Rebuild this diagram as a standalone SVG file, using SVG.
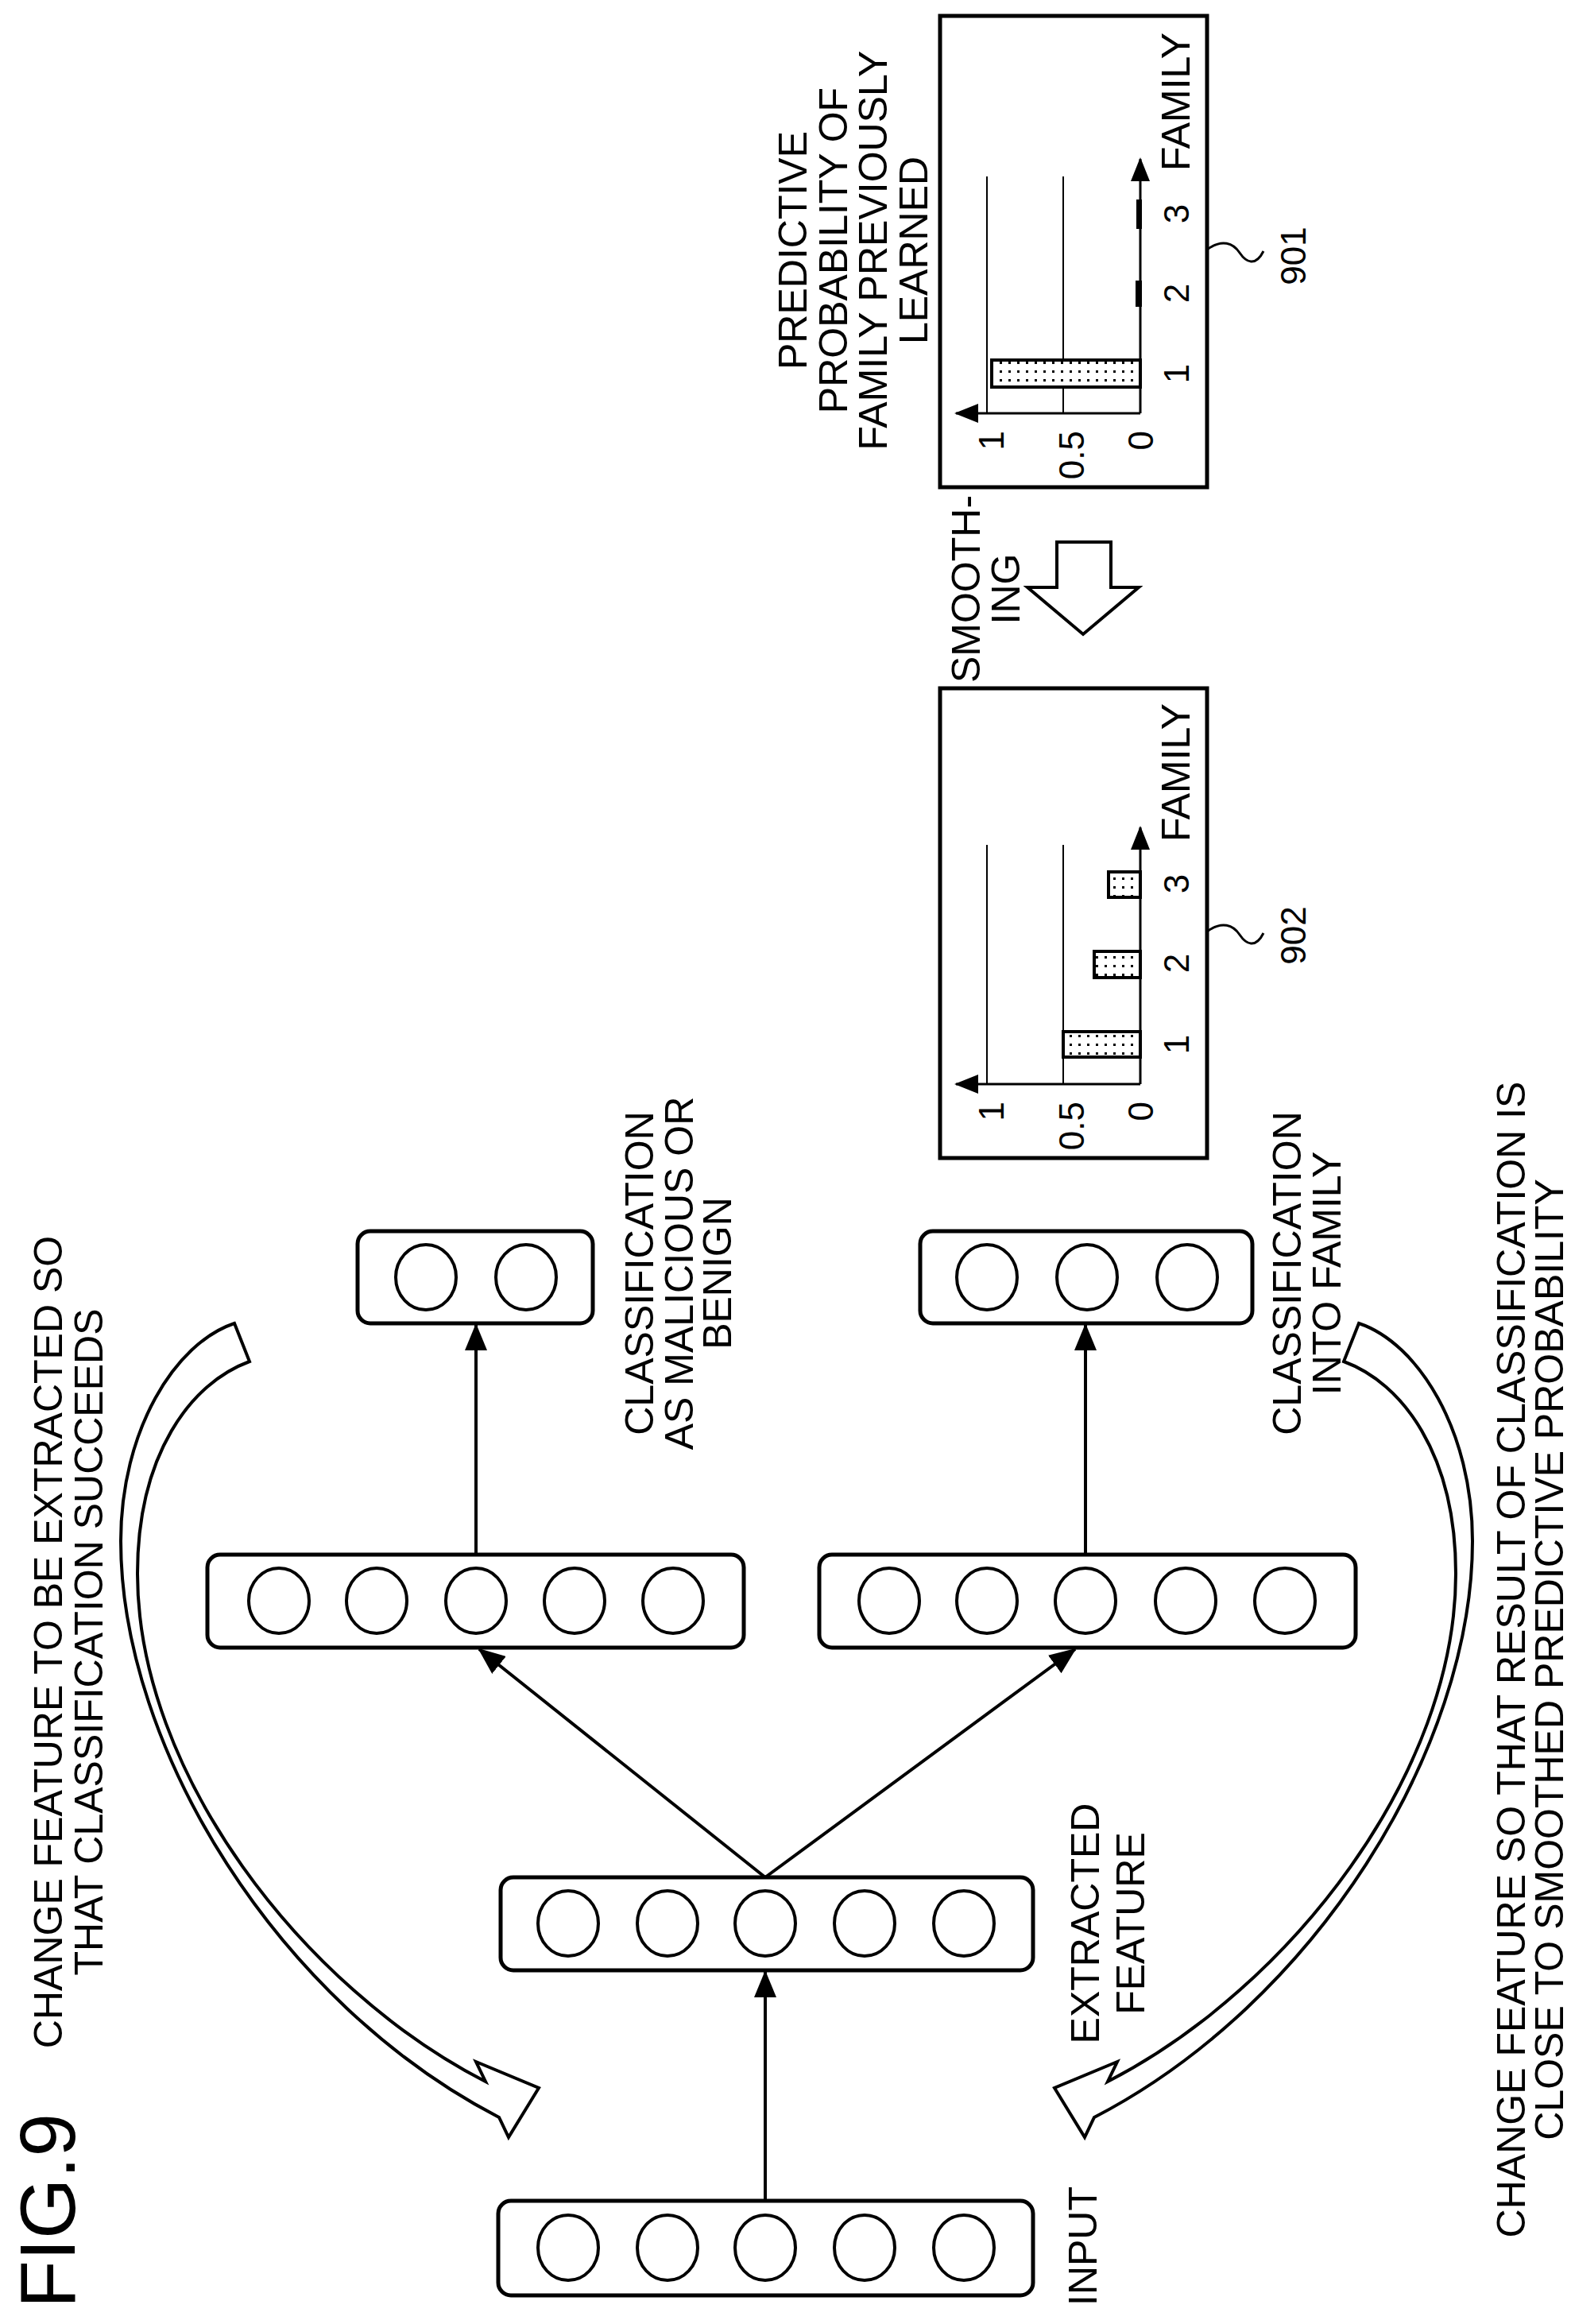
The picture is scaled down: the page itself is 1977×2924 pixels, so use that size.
<svg xmlns="http://www.w3.org/2000/svg" width="1977" height="2924" viewBox="0 0 1977 2924">
<style>
text{font-family:"Liberation Sans",Arial,sans-serif;fill:#000}
.lbl{font-size:50px}
.tk{font-size:44px}
.box{fill:#fff;stroke:#000;stroke-width:5}
.cir{fill:#fff;stroke:#000;stroke-width:4}
.con{stroke:#000;stroke-width:4;fill:none}
.grid{stroke:#000;stroke-width:2;fill:none}
.bar{fill:url(#dots);stroke:#000;stroke-width:4}
.big{fill:#fff;stroke:#000;stroke-width:4;stroke-linejoin:miter}
</style>
<defs>
<marker id="ah" markerUnits="userSpaceOnUse" markerWidth="34" markerHeight="28" refX="32" refY="14" orient="auto">
<path d="M0,0 L34,14 L0,28 Z" fill="#000"/>
</marker>
<marker id="ahs" markerUnits="userSpaceOnUse" markerWidth="30" markerHeight="24" refX="28" refY="12" orient="auto">
<path d="M0,0 L30,12 L0,24 Z" fill="#000"/>
</marker>
<pattern id="dots" patternUnits="userSpaceOnUse" width="11" height="11">
<rect width="11" height="11" fill="#fff"/>
<rect x="4" y="4" width="3" height="3" fill="#000"/>
</pattern>
</defs>

<text class="lbl" style="font-size:98px" transform="translate(94,2904) rotate(-90)">FIG.9</text>
<text class="lbl" text-anchor="middle" transform="translate(78,2066) rotate(-90)"><tspan x="0" y="0">CHANGE FEATURE TO BE EXTRACTED SO</tspan><tspan x="0" dy="51">THAT CLASSIFICATION SUCCEEDS</tspan></text>
<text class="lbl" text-anchor="middle" transform="translate(1919,2088) rotate(-90)"><tspan x="0" y="0">CHANGE FEATURE SO THAT RESULT OF CLASSIFICATION IS</tspan><tspan x="0" dy="48">CLOSE TO SMOOTHED PREDICTIVE PROBABILITY</tspan></text>

<g id="input">
<rect class="box" x="627" y="2769" width="673" height="119" rx="16"/>
<ellipse class="cir" cx="715" cy="2828" rx="38" ry="41"/><ellipse class="cir" cx="840" cy="2828" rx="38" ry="41"/><ellipse class="cir" cx="963" cy="2828" rx="38" ry="41"/><ellipse class="cir" cx="1088" cy="2828" rx="38" ry="41"/><ellipse class="cir" cx="1213" cy="2828" rx="38" ry="41"/>
<text class="lbl" text-anchor="middle" transform="translate(1380,2826) rotate(-90)">INPUT</text>
</g>
<g id="extracted">
<rect class="box" x="630" y="2362" width="670" height="117" rx="16"/>
<ellipse class="cir" cx="715" cy="2420" rx="38" ry="41"/><ellipse class="cir" cx="840" cy="2420" rx="38" ry="41"/><ellipse class="cir" cx="963" cy="2420" rx="38" ry="41"/><ellipse class="cir" cx="1088" cy="2420" rx="38" ry="41"/><ellipse class="cir" cx="1213" cy="2420" rx="38" ry="41"/>
<text class="lbl" text-anchor="middle" transform="translate(1383,2420) rotate(-90)"><tspan x="0" y="0">EXTRACTED</tspan><tspan x="0" dy="57">FEATURE</tspan></text>
</g>
<g id="hidden-left">
<rect class="box" x="261" y="1956" width="675" height="117" rx="16"/>
<ellipse class="cir" cx="351" cy="2014" rx="38" ry="41"/><ellipse class="cir" cx="474" cy="2014" rx="38" ry="41"/><ellipse class="cir" cx="599" cy="2014" rx="38" ry="41"/><ellipse class="cir" cx="723" cy="2014" rx="38" ry="41"/><ellipse class="cir" cx="847" cy="2014" rx="38" ry="41"/>
</g>
<g id="hidden-right">
<rect class="box" x="1031" y="1956" width="675" height="117" rx="16"/>
<ellipse class="cir" cx="1119" cy="2014" rx="38" ry="41"/><ellipse class="cir" cx="1242" cy="2014" rx="38" ry="41"/><ellipse class="cir" cx="1366" cy="2014" rx="38" ry="41"/><ellipse class="cir" cx="1492" cy="2014" rx="38" ry="41"/><ellipse class="cir" cx="1617" cy="2014" rx="38" ry="41"/>
</g>
<g id="out-malicious">
<rect class="box" x="450" y="1549" width="296" height="116" rx="16"/>
<ellipse class="cir" cx="536" cy="1607" rx="38" ry="41"/><ellipse class="cir" cx="662" cy="1607" rx="38" ry="41"/>
<text class="lbl" text-anchor="middle" transform="translate(822,1602) rotate(-90)"><tspan x="0" y="0">CLASSIFICATION</tspan><tspan x="0" dy="50">AS MALICIOUS OR</tspan><tspan x="0" dy="48">BENIGN</tspan></text>
</g>
<g id="out-family">
<rect class="box" x="1158" y="1549" width="418" height="116" rx="16"/>
<ellipse class="cir" cx="1242" cy="1607" rx="38" ry="41"/><ellipse class="cir" cx="1368" cy="1607" rx="38" ry="41"/><ellipse class="cir" cx="1494" cy="1607" rx="38" ry="41"/>
<text class="lbl" text-anchor="middle" transform="translate(1637,1602) rotate(-90)"><tspan x="0" y="0">CLASSIFICATION</tspan><tspan x="0" dy="50">INTO FAMILY</tspan></text>
</g>

<g id="connectors">
<line class="con" x1="963" y1="2769" x2="963" y2="2481" marker-end="url(#ah)"/>
<line class="con" x1="963" y1="2362" x2="603" y2="2075" marker-end="url(#ah)"/>
<line class="con" x1="963" y1="2362" x2="1353" y2="2075" marker-end="url(#ah)"/>
<line class="con" x1="599" y1="1956" x2="599" y2="1667" marker-end="url(#ah)"/>
<line class="con" x1="1366" y1="1956" x2="1366" y2="1667" marker-end="url(#ah)"/>
<path id="curve-left" class="big" d="M314,1713 C240,1740 173,1830 173,1980 C173,2230 380,2500 611,2619 L599,2594 L678,2627 L640,2689 L628,2664 C350,2520 152,2200 152,1939 C152,1800 220,1690 295,1665 Z"/>
<path id="curve-right" class="big" transform="translate(2005,0) scale(-1,1)" d="M314,1713 C240,1740 173,1830 173,1980 C173,2230 380,2500 611,2619 L599,2594 L678,2627 L640,2689 L628,2664 C350,2520 152,2200 152,1939 C152,1800 220,1690 295,1665 Z"/>
<polygon id="smoothing-arrow" class="big" points="1330,682 1398,682 1398,739 1433,739 1363,798 1293,739 1330,739"/>
</g>

<text class="lbl" text-anchor="middle" transform="translate(1233,741) rotate(-90)"><tspan x="0" y="0">SMOOTH-</tspan><tspan x="0" dy="50">ING</tspan></text>

<g id="chart901">
<rect class="box" x="1183" y="20" width="336" height="593"/>
<text class="lbl" text-anchor="middle" transform="translate(1015,315) rotate(-90)"><tspan x="0" y="0">PREDICTIVE</tspan><tspan x="0" dy="51">PROBABILITY OF</tspan><tspan x="0" dy="50">FAMILY PREVIOUSLY</tspan><tspan x="0" dy="51">LEARNED</tspan></text>
<line class="grid" x1="1242" y1="520" x2="1242" y2="222"/>
<line class="grid" x1="1338" y1="520" x2="1338" y2="222"/>
<rect class="bar" x="1248" y="453" width="187" height="34"/>
<rect class="bar" x="1431" y="355" width="4" height="29"/>
<rect class="bar" x="1432" y="253" width="3" height="33"/>
<line class="con" style="stroke-width:3" x1="1435" y1="520" x2="1203" y2="520" marker-end="url(#ahs)"/>
<line class="con" style="stroke-width:3" x1="1435" y1="520" x2="1435" y2="200" marker-end="url(#ahs)"/>
<text class="tk" text-anchor="end" transform="translate(1263,542) rotate(-90)">1</text>
<text class="tk" text-anchor="end" transform="translate(1364,542) rotate(-90)">0.5</text>
<text class="tk" text-anchor="end" transform="translate(1451,542) rotate(-90)">0</text>
<text class="tk" text-anchor="middle" transform="translate(1496,470) rotate(-90)">1</text>
<text class="tk" text-anchor="middle" transform="translate(1496,369) rotate(-90)">2</text>
<text class="tk" text-anchor="middle" transform="translate(1496,269) rotate(-90)">3</text>
<text class="lbl" text-anchor="middle" transform="translate(1497,128) rotate(-90)">FAMILY</text>
<path class="grid" style="stroke-width:3" d="M1519,314 C1538,300 1552,306 1560,318 S1580,336 1590,316"/>
<text class="tk" text-anchor="middle" transform="translate(1643,322) rotate(-90)">901</text>
</g>

<g id="chart902">
<rect class="box" x="1183" y="866" width="336" height="591"/>
<line class="grid" x1="1242" y1="1364" x2="1242" y2="1063"/>
<line class="grid" x1="1338" y1="1364" x2="1338" y2="1063"/>
<rect class="bar" x="1338" y="1298" width="97" height="32"/>
<rect class="bar" x="1377" y="1197" width="58" height="33"/>
<rect class="bar" x="1395" y="1097" width="40" height="32"/>
<line class="con" style="stroke-width:3" x1="1435" y1="1364" x2="1203" y2="1364" marker-end="url(#ahs)"/>
<line class="con" style="stroke-width:3" x1="1435" y1="1364" x2="1435" y2="1041" marker-end="url(#ahs)"/>
<text class="tk" text-anchor="end" transform="translate(1263,1386) rotate(-90)">1</text>
<text class="tk" text-anchor="end" transform="translate(1364,1386) rotate(-90)">0.5</text>
<text class="tk" text-anchor="end" transform="translate(1451,1386) rotate(-90)">0</text>
<text class="tk" text-anchor="middle" transform="translate(1496,1314) rotate(-90)">1</text>
<text class="tk" text-anchor="middle" transform="translate(1496,1212) rotate(-90)">2</text>
<text class="tk" text-anchor="middle" transform="translate(1496,1112) rotate(-90)">3</text>
<text class="lbl" text-anchor="middle" transform="translate(1497,972) rotate(-90)">FAMILY</text>
<path class="grid" style="stroke-width:3" d="M1519,1172 C1538,1158 1552,1164 1560,1176 S1580,1194 1590,1174"/>
<text class="tk" text-anchor="middle" transform="translate(1643,1177) rotate(-90)">902</text>
</g>
</svg>
